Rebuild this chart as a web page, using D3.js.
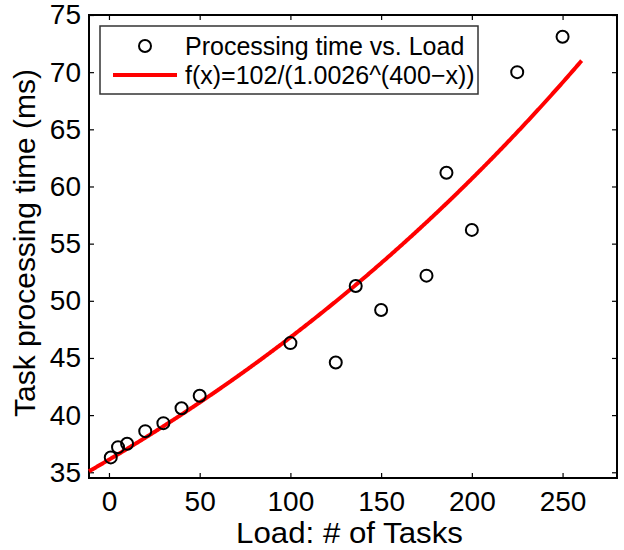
<!DOCTYPE html>
<html>
<head>
<meta charset="utf-8">
<script src="https://cdn.jsdelivr.net/npm/d3@7"></script>
<style>
  body { margin: 0; background: #fff; }
  svg { display: block; font-family: "Liberation Sans", Arial, Helvetica, sans-serif; }
</style>
</head>
<body>
<script>
// measured load vs processing time
const loads = [1, 5, 10, 20, 30, 40, 50, 100, 125, 136, 150, 175, 186, 200, 225, 250];
const times = [36.3, 37.2, 37.5, 38.6, 39.3, 40.6, 41.7, 46.3, 44.6, 51.3, 49.2, 52.2, 61.2, 56.2, 70.0, 73.1];
const xTicks = [0, 50, 100, 150, 200, 250];
const yTicks = [35, 40, 45, 50, 55, 60, 65, 70, 75];
const fitLabel = "f(x)=102/(1.0026^(400\u2212x))";
const dataLabel = "Processing time vs. Load";

const width = 624, height = 550;
const marginLeft = 89, marginRight = 7, marginTop = 15, marginBottom = 72;

const fit = x => 102 / Math.pow(1.0026, 400 - x);

const x = d3.scaleLinear([-11, 280], [marginLeft, width - marginRight]);
const y = d3.scaleLinear([34.5, 75], [height - marginBottom, marginTop]);

const svg = d3.select("body").append("svg")
    .attr("width", width)
    .attr("height", height)
    .attr("viewBox", [0, 0, width, height]);

// axes with inward ticks (matlab style), mirrored on top/right
svg.append("g")
    .attr("transform", `translate(0,${height - marginBottom})`)
    .call(d3.axisBottom(x).tickValues(xTicks).tickSizeInner(-5).tickSizeOuter(0).tickPadding(13))
    .call(g => g.select(".domain").remove())
    .call(g => g.selectAll("text").attr("font-size", 28).attr("fill", "#000").attr("dy", "0.71em"));

svg.append("g")
    .attr("transform", `translate(0,${marginTop})`)
    .call(d3.axisTop(x).tickValues(xTicks).tickSizeInner(-5).tickSizeOuter(0))
    .call(g => g.select(".domain").remove())
    .call(g => g.selectAll("text").remove());

svg.append("g")
    .attr("transform", `translate(${marginLeft},0)`)
    .call(d3.axisLeft(y).tickValues(yTicks).tickSizeInner(-5).tickSizeOuter(0).tickPadding(8))
    .call(g => g.select(".domain").remove())
    .call(g => g.selectAll("text").attr("font-size", 28).attr("fill", "#000"));

svg.append("g")
    .attr("transform", `translate(${width - marginRight},0)`)
    .call(d3.axisRight(y).tickValues(yTicks).tickSizeInner(-5).tickSizeOuter(0))
    .call(g => g.select(".domain").remove())
    .call(g => g.selectAll("text").remove());

svg.selectAll(".tick line").attr("stroke", "#000").attr("stroke-width", 1.2);

// box
svg.append("rect")
    .attr("x", marginLeft)
    .attr("y", marginTop)
    .attr("width", width - marginRight - marginLeft)
    .attr("height", height - marginBottom - marginTop)
    .attr("fill", "none")
    .attr("stroke", "#000")
    .attr("stroke-width", 2);

// fitted curve
const curveX = d3.range(-11, 261, 0.5);
svg.append("path")
    .datum(curveX)
    .attr("fill", "none")
    .attr("stroke", "#ff0000")
    .attr("stroke-width", 4)
    .attr("d", d3.line().x(d => x(d)).y(d => y(fit(d))));

// data points
svg.append("g")
  .selectAll("circle")
  .data(loads)
  .join("circle")
    .attr("cx", d => x(d))
    .attr("cy", (d, i) => y(times[i]))
    .attr("r", 6)
    .attr("fill", "none")
    .attr("stroke", "#000")
    .attr("stroke-width", 2);

// legend
const legend = svg.append("g");
legend.append("rect")
    .attr("x", 100).attr("y", 26)
    .attr("width", 378).attr("height", 68)
    .attr("fill", "#fff")
    .attr("stroke", "#333")
    .attr("stroke-width", 1.5);
legend.append("circle")
    .attr("cx", 145).attr("cy", 46)
    .attr("r", 6)
    .attr("fill", "none").attr("stroke", "#000").attr("stroke-width", 2);
legend.append("line")
    .attr("x1", 113).attr("x2", 177)
    .attr("y1", 75).attr("y2", 75)
    .attr("stroke", "#ff0000").attr("stroke-width", 4);
legend.append("text")
    .attr("x", 185).attr("y", 55)
    .attr("font-size", 25)
    .text(dataLabel);
legend.append("text")
    .attr("x", 185).attr("y", 84)
    .attr("font-size", 25)
    .text(fitLabel);

// axis labels
svg.append("text")
    .attr("x", 349.5)
    .attr("y", 543)
    .attr("text-anchor", "middle")
    .attr("font-size", 29)
    .attr("textLength", 227)
    .attr("lengthAdjust", "spacingAndGlyphs")
    .text("Load: # of Tasks");

svg.append("text")
    .attr("transform", "translate(35,243) rotate(-90)")
    .attr("text-anchor", "middle")
    .attr("font-size", 30)
    .attr("textLength", 348)
    .attr("lengthAdjust", "spacingAndGlyphs")
    .text("Task processing time (ms)");
</script>
</body>
</html>
